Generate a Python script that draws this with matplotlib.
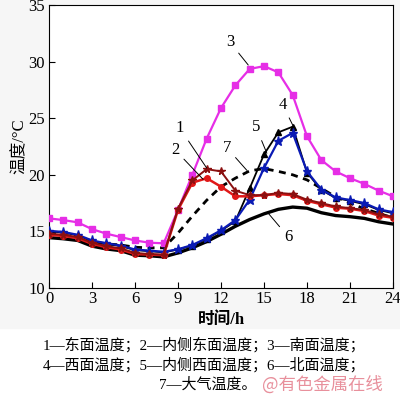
import numpy as np
import matplotlib.pyplot as plt
from matplotlib.patches import Rectangle

plt.rcParams['font.family'] = ['Liberation Serif', 'Noto Sans CJK SC']

hours = list(range(25))

# 1 east face
t_east = [14.8, 14.7, 14.5, 14.0, 13.7, 13.5, 13.1, 13.0, 12.95, 17.0, 19.5, 20.5, 20.3,
          18.6, 18.2, 18.2, 18.4, 18.3, 17.8, 17.5, 17.2, 17.05, 16.9, 16.5, 16.3]
# 2 inner east face
t_east_in = [14.7, 14.6, 14.4, 13.9, 13.6, 13.4, 13.0, 12.95, 12.9, 16.9, 19.3, 19.7, 18.95,
             18.1, 18.1, 18.2, 18.3, 18.2, 17.7, 17.4, 17.1, 17.0, 16.8, 16.4, 16.2]
# 3 south face
t_south = [16.15, 16.0, 15.8, 15.2, 14.8, 14.5, 14.2, 14.0, 13.95, 16.9, 20.0, 23.2, 25.9,
           27.9, 29.35, 29.6, 29.05, 27.05, 23.4, 21.3, 20.3, 19.7, 19.2, 18.6, 18.1]
# 4 west face
t_west = [15.0, 14.9, 14.65, 14.15, 13.9, 13.7, 13.35, 13.25, 13.15, 13.4, 13.75, 14.35, 15.05,
          15.9, 18.8, 21.8, 23.75, 24.25, 20.2, 18.65, 17.95, 17.7, 17.4, 16.9, 16.6]
# 5 inner west face
t_west_in = [15.05, 14.95, 14.7, 14.2, 13.95, 13.75, 13.4, 13.3, 13.2, 13.42, 13.8, 14.4, 15.1,
             16.0, 17.8, 20.6, 23.0, 23.7, 20.3, 18.7, 18.0, 17.77, 17.5, 16.95, 16.7]
# 6 north face
t_north = [14.45, 14.35, 14.2, 13.7, 13.45, 13.3, 12.9, 12.85, 12.75, 13.1, 13.55, 14.1, 14.75,
           15.45, 16.05, 16.55, 16.95, 17.15, 17.05, 16.65, 16.4, 16.3, 16.15, 15.85, 15.65]
# 7 air
t_air = [14.85, 14.75, 14.5, 14.1, 13.9, 13.8, 13.6, 13.55, 13.55, 14.85, 16.35, 17.75, 18.95,
         19.7, 20.35, 20.55, 20.3, 20.0, 19.55, 18.8, 18.05, 17.5, 17.0, 16.6, 16.2]

fig = plt.figure(figsize=(4.0, 3.98), dpi=100)
fig.patches.append(Rectangle((0, 0.175), 1, 0.825, transform=fig.transFigure,
                             color='#f6f6f6', zorder=-10))
ax = fig.add_axes([0.1225, 0.2764, 0.86, 0.711])
ax.set_facecolor('white')

ax.plot(hours, t_north, color='black', lw=2.4, zorder=2)
ax.plot(hours, t_air, color='black', lw=2.0, ls=(0, (2.5, 2)), zorder=3)
ax.plot(hours, t_west, color='black', lw=1.3, marker='^', ms=4, zorder=4)
ax.plot(hours, t_west_in, color='#0a1ab4', lw=1.6, marker='*', ms=6.5, zorder=5)
ax.plot(hours, t_south, color='#e62ee6', lw=1.6, marker='s', ms=4, zorder=4)
ax.plot(hours, t_east_in, color='#e01818', lw=1.8, marker='o', ms=4, zorder=6)
ax.plot(hours, t_east, color='#8b1010', lw=1.4, marker='*', ms=5.5, zorder=7)

ax.set_xlim(0, 24)
ax.set_ylim(10, 35)
ax.set_xticks(range(0, 25, 3))
ax.set_yticks(range(10, 36, 5))
ax.tick_params(direction='in', length=4, labelsize=12, top=False, right=False)
ax.tick_params(axis='x', pad=2)
ax.tick_params(axis='y', pad=3)
ax.set_xlabel('时间/h', fontsize=12, fontweight='bold', labelpad=4)
ax.set_ylabel('温度/°C', fontsize=12, labelpad=0)

labels = [('1', (9.14, 24.1), (11.0, 20.6)),
          ('2', (8.8, 22.2), (10.75, 19.6)),
          ('3', (12.63, 31.7), (13.9, 29.7)),
          ('4', (16.3, 26.2), (17.0, 24.4)),
          ('5', (14.45, 24.2), (15.2, 21.9)),
          ('6', (16.7, 14.5), (15.3, 16.6)),
          ('7', (12.4, 22.4), (13.8, 20.4))]
for txt, xy_text, xy_pt in labels:
    ax.annotate(txt, xy=xy_pt, xytext=xy_text, fontsize=12, ha='center', va='center',
                arrowprops=dict(arrowstyle='-', color='black', lw=0.7,
                                shrinkA=2, shrinkB=0), zorder=10)

fig.text(0.51, 0.133, '1—东面温度；2—内侧东面温度；3—南面温度；', ha='center',
         va='center', fontsize=10.8)
fig.text(0.51, 0.083, '4—西面温度；5—内侧西面温度；6—北面温度；', ha='center',
         va='center', fontsize=10.8)
fig.text(0.64, 0.033, '7—大气温度。', ha='right', va='center', fontsize=10.8)
fig.text(0.655, 0.033, '@有色金属在线', ha='left', va='center', fontsize=12.5,
         color='#e8909c', family=['Noto Sans CJK SC'])

fig.savefig('out.png', dpi=100)
